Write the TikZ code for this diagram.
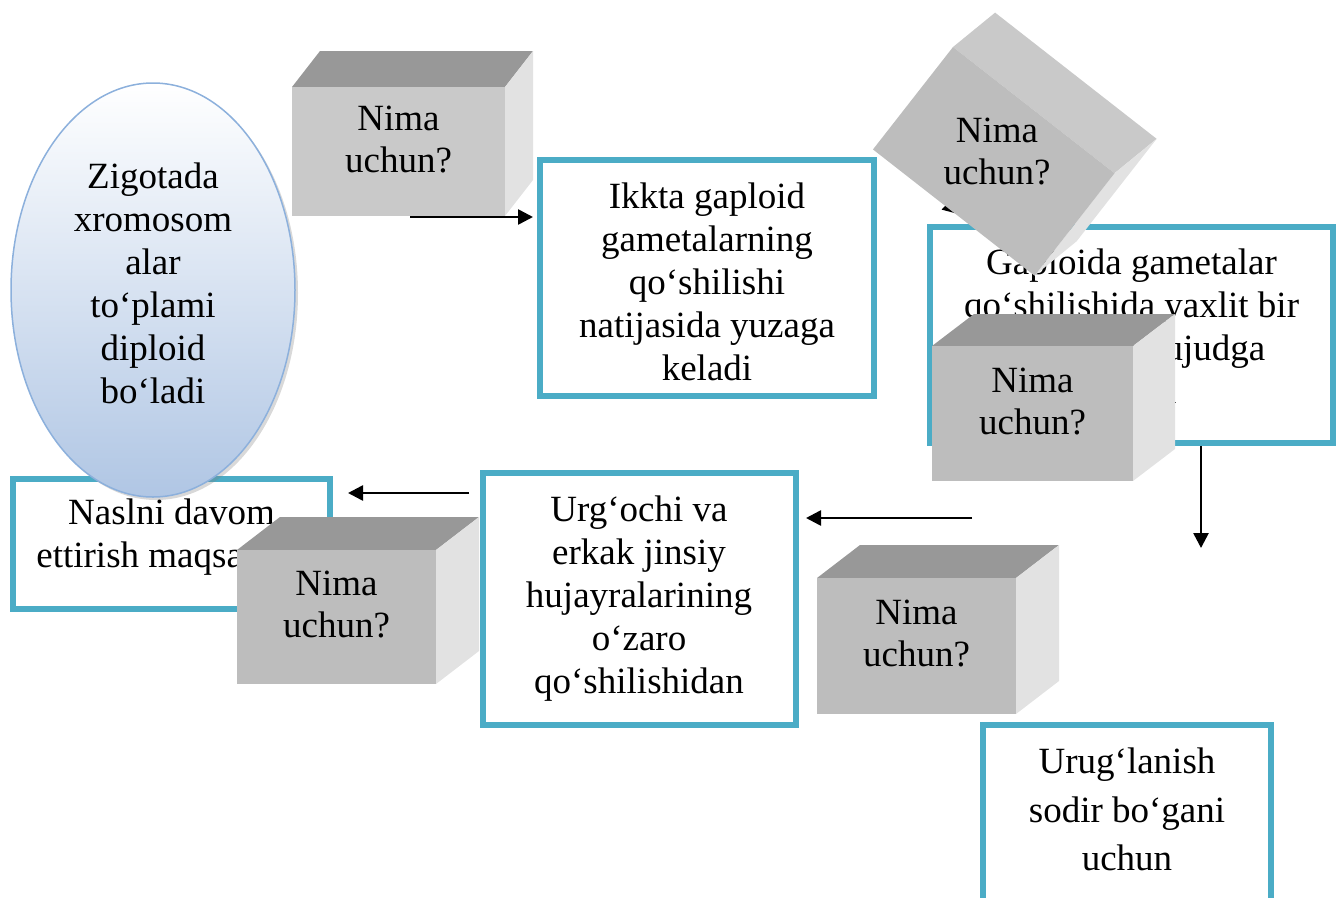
\documentclass[tikz,border=0pt]{standalone}
\usepackage{fontspec}
\setmainfont{Liberation Serif}
\usetikzlibrary{positioning, arrows.meta, shapes.geometric, shadows}

\definecolor{boxblue}{RGB}{75,172,198}
\definecolor{zygoteedge}{RGB}{140,176,220}
\definecolor{zygotefill}{RGB}{176,198,228}
\definecolor{cubefront}{RGB}{189,189,189}
\definecolor{cubefrontlight}{RGB}{201,201,201}
\definecolor{cubetop}{RGB}{152,152,152}
\definecolor{cubeside}{RGB}{226,226,226}

\tikzset{
  answer/.style={draw=boxblue, line width=6pt, fill=white, inner sep=0pt, align=center,
    font=\fontsize{37}{43}\selectfont},
  answertext/.style={inner sep=0pt, align=center, font=\fontsize{37}{43}\selectfont},
  whytext/.style={align=center, inner sep=0pt, font=\fontsize{37}{42}\selectfont},
  zygote/.style={ellipse, draw=zygoteedge, line width=1.5pt, top color=white, bottom color=zygotefill,
    drop shadow={shadow xshift=3pt, shadow yshift=-3pt, opacity=0.3}, inner sep=0pt},
  flow/.style={-{Triangle[length=15pt,width=15pt]}, line width=2.6pt}
}

% grey "Nima uchun?" block: name, front top-left corner, width, height, depth, front colour
\newcommand{\nimacube}[8]{%
  \fill[cubetop] (#2,#3) -- (#2+#6,#3+#7) -- (#2+#4+#6,#3+#7) -- (#2+#4,#3) -- cycle;
  \fill[cubeside] (#2+#4,#3) -- (#2+#4+#6,#3+#7) -- (#2+#4+#6,#3+#5+#7) -- (#2+#4,#3+#5) -- cycle;
  \fill[#8] (#2,#3) rectangle ++(#4,#5);
  \node[whytext] (#1) at (#2+#4/2,#3+#5/2-12) {Nima\\uchun?};
}

\begin{document}
\begin{tikzpicture}[x=1pt, y=-1pt]

  \useasboundingbox (0,0) rectangle (1337,897);
  \clip (0,0) rectangle (1337,897);

  % Left column
  \node[answer, minimum width=317, minimum height=130] (naslni) at (171.5,544) {};
  \node[answertext] (nasltext) at (171.5,537) {Naslni davom\\ettirish maqsadida};
  \node[zygote, minimum width=284, minimum height=414] (zig) at (153,290) {};
  \node[answertext] (zigtext) at (153,283)
    {Zigotada\\xromosom\\alar\\to‘plami\\diploid\\bo‘ladi};
  \nimacube{q4}{237}{550}{199}{134}{43}{-33}{cubefront}

  % Middle column
  \node[answer, minimum width=313, minimum height=252] (urgochi) at (639,599)
    {Urg‘ochi va\\erkak jinsiy\\hujayralarining\\o‘zaro\\qo‘shilishidan};
  \node[answer, minimum width=334, minimum height=236] (ikkta) at (707,278) {};
  \node[answertext] (ikktext) at (707,282)
    {Ikkta gaploid\\gametalarning\\qo‘shilishi\\natijasida yuzaga\\keladi};

  % Arrow from the first block
  \coordinate (a1) at (410,217);
  \draw[flow, shorten >=4pt] (a1) -- (a1 -| ikkta.west);
  \nimacube{q1}{292}{87}{213}{129}{28}{-36}{cubefrontlight}

  % Right column
  \node[answer, minimum width=403, minimum height=216] (gaploid) at (1131.5,335) {};
  \node[answertext] (gaptext) at (1131.5,326)
    {Gaploida gametalar\\qo‘shilishida yaxlit bir\\organizm vujudga\\keladi};
  \nimacube{q3}{932}{346}{201}{135}{42}{-32}{cubefront}

  % Tilted block over the arrow
  \coordinate (a2) at (905,165);
  \coordinate (a2e) at (958,214);
  \draw[flow] (a2) -- (a2e);
  \begin{scope}[shift={(953,47)}, rotate=-38]
    \fill[cubefrontlight] (0,0) -- (12,-53) -- (217,-53) -- (205,0) -- cycle;
    \fill[cubeside] (205,0) -- (217,-53) -- (217,77) -- (205,130) -- cycle;
    \fill[cubefront] (0,0) rectangle (205,130);
  \end{scope}
  \node[whytext] (q2) at (997,152) {Nima\\uchun?};

  \coordinate (a3) at (1201,548);
  \draw[flow] (a3 |- gaploid.south) -- (a3);

  % Bottom right
  \nimacube{q5}{817}{578}{199}{136}{43}{-33}{cubefront}
  \node[answer, minimum width=288, minimum height=233, font=\fontsize{37}{48.5}\selectfont] (urug) at (1127,841)
    {Urug‘lanish\\sodir bo‘gani\\uchun\\\strut};

  % Arrows to the left
  \coordinate (a4) at (972,518);
  \draw[flow, shorten >=7.5pt] (a4) -- (a4 -| urgochi.east);
  \coordinate (a5) at (469,493);
  \draw[flow, shorten >=15pt] (a5) -- (a5 -| naslni.east);

\end{tikzpicture}
\end{document}
